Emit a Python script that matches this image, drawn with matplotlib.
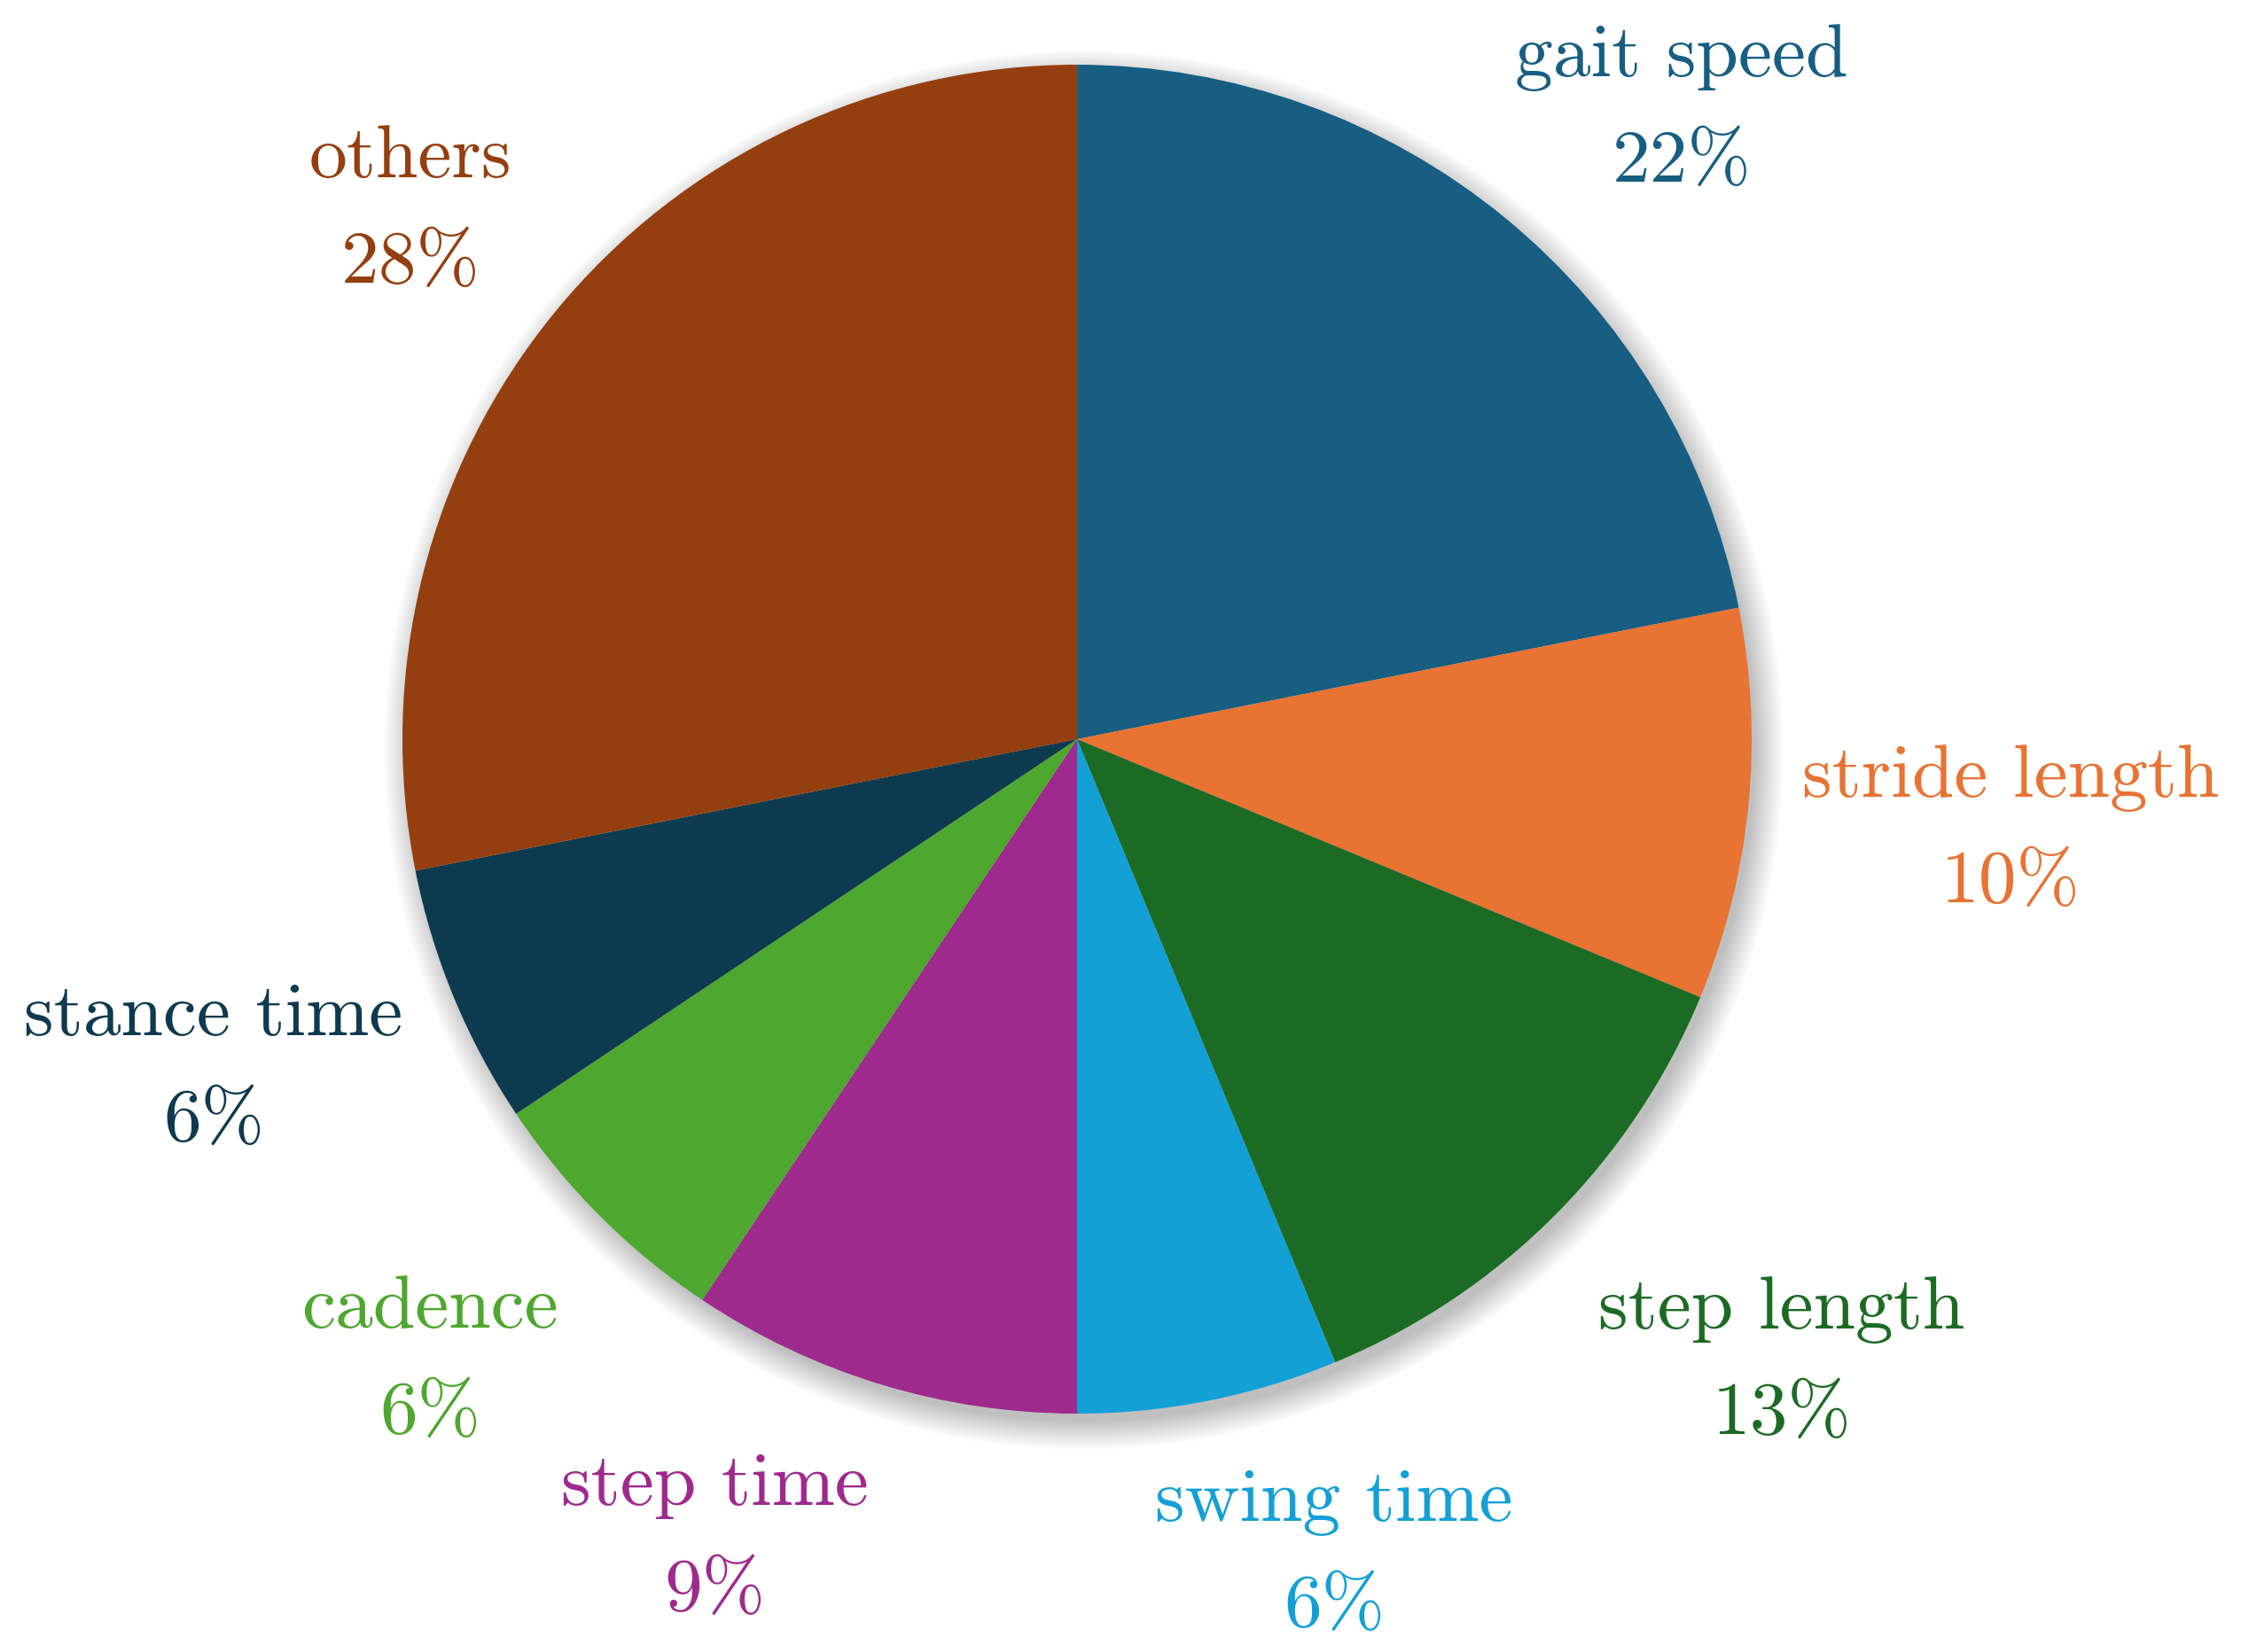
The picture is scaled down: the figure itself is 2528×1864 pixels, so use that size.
import matplotlib
matplotlib.use("Agg")
import matplotlib.pyplot as plt
from matplotlib.patches import Circle

plt.rcParams['font.family'] = ['cmr10', 'DejaVu Serif']

categories = ["gait speed", "stride length", "step length", "swing time",
              "step time", "cadence", "stance time", "others"]
# slice sizes (counts out of 32)
counts = [7, 3, 4, 2, 3, 2, 2, 9]
# percentage labels as printed on the chart
pct_labels = [22, 10, 13, 6, 9, 6, 6, 28]
colors = ["#175E82", "#E87333", "#1C6B24", "#12A0D7",
          "#9E2A8E", "#4EA72E", "#0E3A4F", "#953F10"]

W, H, dpi = 2528, 1865, 200
cx, cy, R = 1215, 835, 761

# label anchor points (pixel centre x, baseline y of first line)
label_px = [(1897, 86), (2268, 899), (2010, 1499), (1505, 1716),
            (806, 1698), (485, 1498), (241, 1168), (463, 200)]
line_gap_px = 119

fig = plt.figure(figsize=(W / dpi, H / dpi), dpi=dpi)
ax = fig.add_axes([0, 0, 1, 1])

# soft shadow
for i in range(16):
    r = 0.995 + 0.0028 * i
    ax.add_patch(Circle((0.010, -0.016), r, facecolor='black', edgecolor='none',
                        alpha=0.014, zorder=0))

ax.pie(counts, colors=colors, startangle=90, counterclock=False, radius=1.0,
       center=(0, 0), frame=True,
       wedgeprops=dict(linewidth=0, edgecolor='none', zorder=2))
ax.set_xlim(-cx / R, (W - cx) / R)
ax.set_ylim(-(H - cy) / R, cy / R)
ax.set_aspect('auto')
ax.axis('off')

fs = 30.8
for cat, p, c, (px, py) in zip(categories, pct_labels, colors, label_px):
    x = (px - cx) / R
    y1 = (cy - py) / R
    y2 = (cy - py - line_gap_px) / R
    ax.text(x, y1, cat, color=c, fontsize=fs, ha='center', va='baseline', zorder=5)
    ax.text(x, y2, f"{p}%", color=c, fontsize=fs, ha='center', va='baseline', zorder=5)

fig.savefig("out.png", dpi=dpi, facecolor='white')
